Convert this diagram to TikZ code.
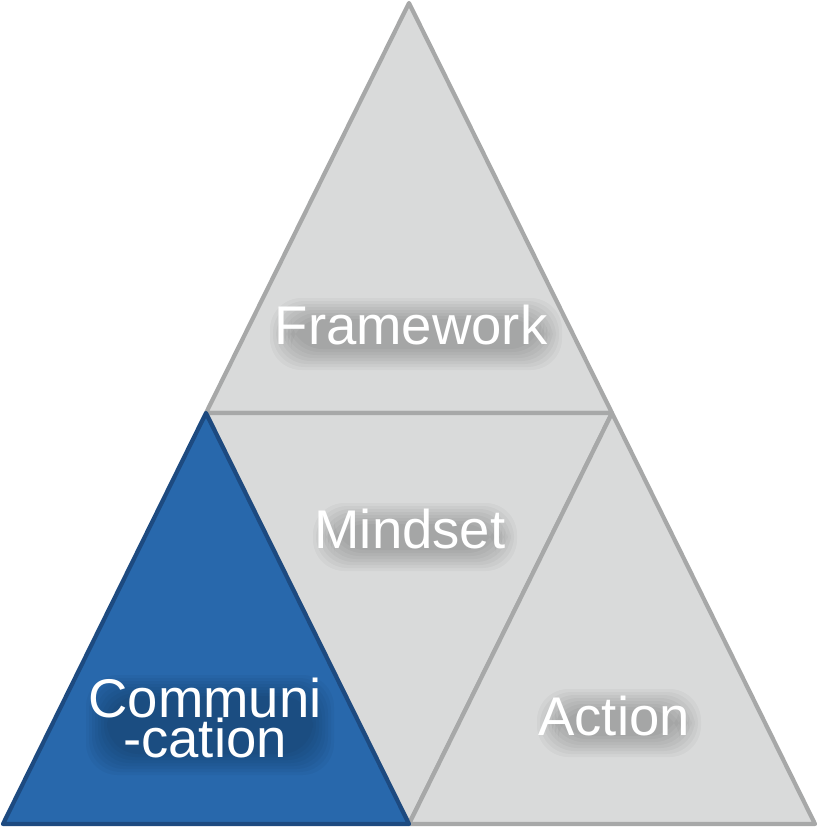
\documentclass[tikz,border=0pt]{standalone}
\usepackage{fontspec}
\setmainfont{Liberation Sans}
\definecolor{trigray}{HTML}{D9DADA}
\definecolor{tririm}{HTML}{A7A8A8}
\definecolor{triblue}{HTML}{2868AC}
\definecolor{blurim}{HTML}{1D4A80}
\tikzset{
  tri/.style={fill=trigray, draw=tririm, line width=1.2pt, line join=round},
  bluetri/.style={fill=triblue, draw=blurim, line width=1.2pt, line join=round},
  softshade/.style={fill=black, opacity=0.032, rounded corners=9pt},
  lbl/.style={text=white, font=\fontsize{15.5}{11.6}\selectfont, align=center, inner sep=0pt}
}
% soft gray cloud behind a label: centre x, centre y, half width, half height
\newcommand\softcloud[4]{%
  \foreach \k in {0,...,7}
    \fill[softshade] ({#1-#3+\k*3},{#2-#4+\k*3}) rectangle ({#1+#3-\k*3},{#2+#4-\k*3});}
\begin{document}
\begin{tikzpicture}[x=0.01cm, y=-0.01cm]
  \useasboundingbox (0,0) rectangle (818,827);
  % corners of the big triangle and the midpoints of its sides
  \coordinate (apex) at (409,3);
  \coordinate (bl) at (3,824);
  \coordinate (br) at (815,824);
  \coordinate (ml) at (206,413);
  \coordinate (mr) at (612,413);
  \coordinate (mb) at (409,824);
  % the four parts
  \draw[tri] (apex) -- (mr) -- (ml) -- cycle;
  \draw[tri] (ml) -- (mr) -- (mb) -- cycle;
  \draw[tri] (mr) -- (br) -- (mb) -- cycle;
  \draw[bluetri] (ml) -- (mb) -- (bl) -- cycle;
  % shadows of the labels
  \softcloud{416}{334}{146}{36}
  \softcloud{415}{537}{102}{34}
  \softcloud{619}{723}{82}{34}
  \softcloud{210}{725}{124}{50}
  % labels
  \node[lbl] (framework) at (411,325) {Framework};
  \node[lbl] (mindset) at (410,529) {Mindset};
  \node[lbl] (action) at (614,716) {Action};
  \node[lbl] (communication) at (205,718) {Communi\\-cation};
\end{tikzpicture}
\end{document}
